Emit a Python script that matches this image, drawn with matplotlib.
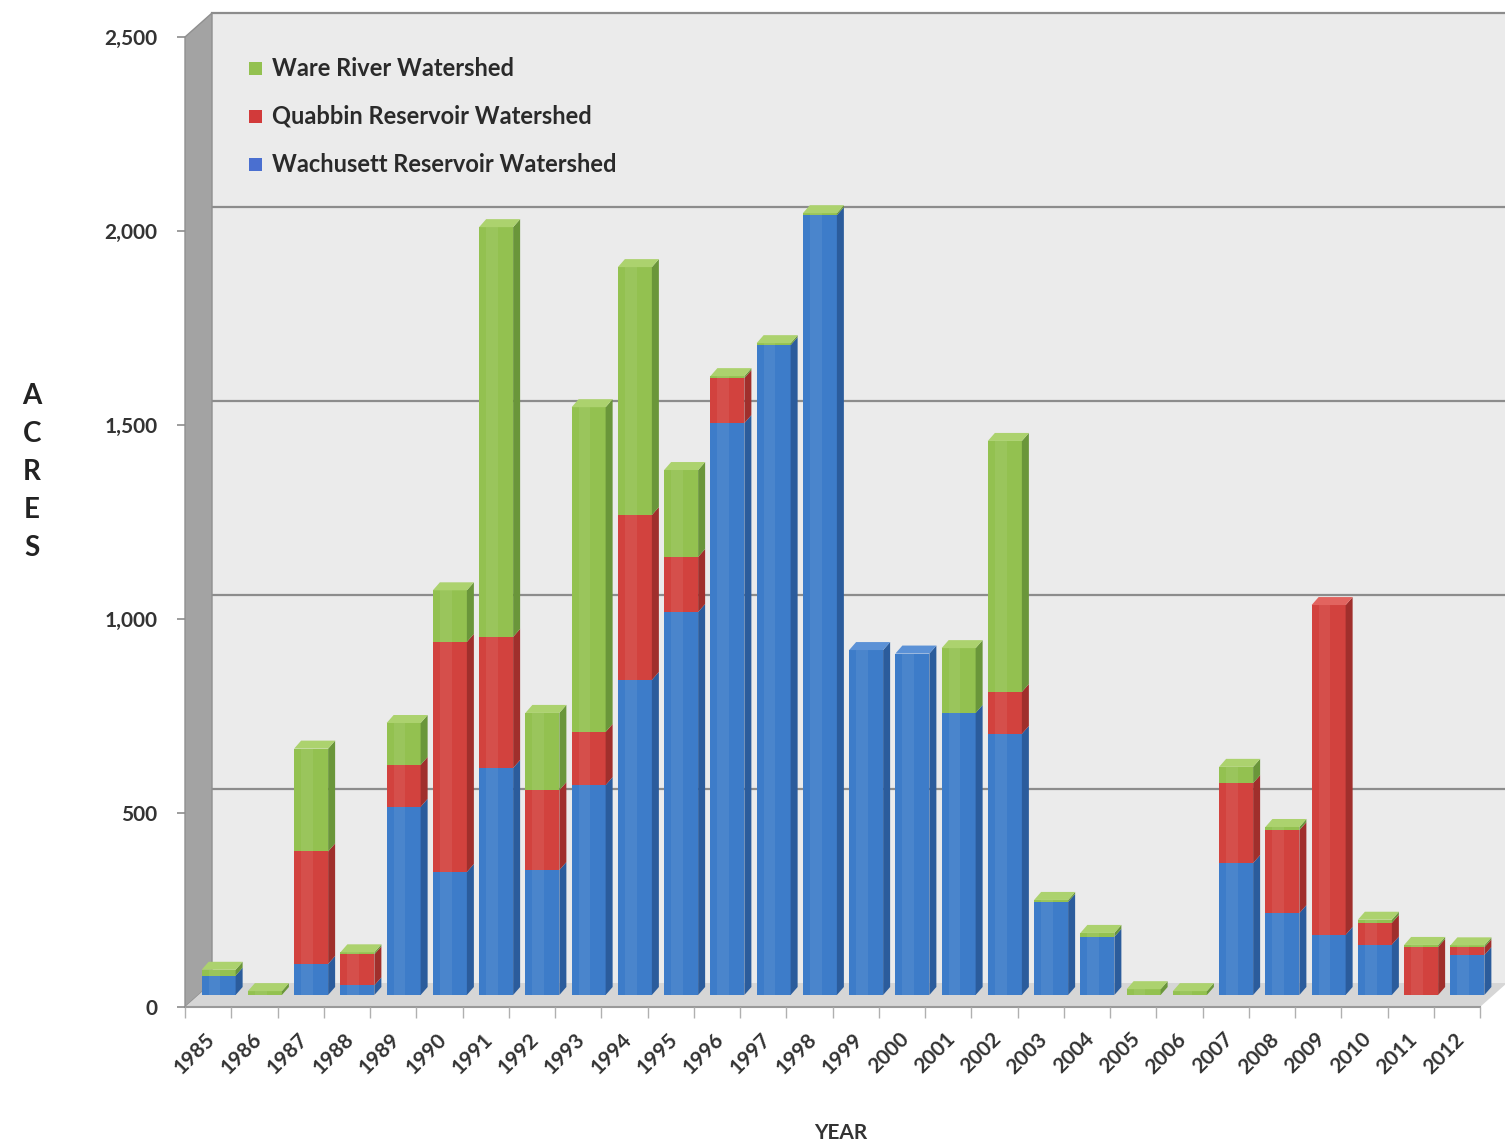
import numpy as np
import matplotlib
matplotlib.use("Agg")
import matplotlib.pyplot as plt
from matplotlib.patches import Polygon, Rectangle
from matplotlib.transforms import ScaledTranslation

plt.rcParams["font.family"] = ["Lato", "DejaVu Sans"]

# ---- data (acres protected per year) ----
years = list(range(1985, 2013))
wachusett = [50, 0, 80, 25, 485, 317, 585, 322, 541, 812, 987, 1474, 1675, 2010,
             889, 880, 727, 673, 240, 150, 0, 0, 340, 211, 155, 130, 0, 103]
quabbin = [0, 0, 290, 80, 108, 593, 338, 206, 137, 425, 142, 116, 0, 0,
           0, 0, 0, 108, 0, 0, 0, 0, 206, 214, 850, 56, 124, 20]
ware = [15, 10, 265, 5, 108, 133, 1056, 199, 837, 639, 224, 5, 5, 5,
        0, 0, 167, 647, 5, 10, 15, 10, 42, 8, 0, 8, 5, 5]
series_names = ["Wachusett Reservoir Watershed", "Quabbin Reservoir Watershed",
                "Ware River Watershed"]
y_ticks = [0, 500, 1000, 1500, 2000, 2500]
y_tick_labels = ["0", "500", "1,000", "1,500", "2,000", "2,500"]

# face colours: (front, side, top)
shades = [("#3d7cc9", "#2b5c9c", "#5b91d6"),
          ("#d2423e", "#a02f2c", "#e2645f"),
          ("#93c150", "#6a963a", "#acd26e")]
legend_colors = ["#4a6fd0", "#d23a3a", "#93c150"]

W, H, DPI = 1505, 1147, 100
fig = plt.figure(figsize=(W / DPI, H / DPI), dpi=DPI)
fig.patch.set_facecolor("white")

# front plane of the chart box
L, R, TOP, BOT = 185, 1480, 37, 1007
ax = fig.add_axes([L / W, (H - BOT) / H, (R - L) / W, (BOT - TOP) / H])
ax.set_autoscale_on(False)
ax.set_xlim(-0.5, len(years) - 0.5)
ax.set_ylim(0, 2500)
ax.patch.set_visible(False)
for s in ax.spines.values():
    s.set_visible(False)

CX = len(years) / (R - L)      # categories per pixel
CY = 2500 / (BOT - TOP)         # acres per pixel


def shifted(px, py):
    return ax.transData + ScaledTranslation(px / DPI, py / DPI, fig.dpi_scale_trans)


DEPTH_X, DEPTH_Y = 27, 24
back_tf = shifted(DEPTH_X, DEPTH_Y)
bar_tf = shifted(10.5, 12)
x0, x1 = -0.5, len(years) - 0.5

# back wall with gridlines
ax.add_patch(Rectangle((x0, 0), x1 - x0, 2500, transform=back_tf, fc="#ebebeb",
                       ec="none", clip_on=False, zorder=0))
for v in y_ticks[1:]:
    ax.plot([x0, x1], [v, v], transform=back_tf, color="#8c8c8c", lw=1.6,
            clip_on=False, zorder=0.5)

# side wall
ax.add_patch(Polygon([(x0, 0), (x0, 2500), (x0 + DEPTH_X * CX, 2500 + DEPTH_Y * CY),
                      (x0 + DEPTH_X * CX, DEPTH_Y * CY)], closed=True,
                     fc="#a3a3a3", ec="#8f8f8f", lw=1, clip_on=False, zorder=0.6))
# floor
ax.add_patch(Polygon([(x0, 0), (x1, 0), (x1 + DEPTH_X * CX, DEPTH_Y * CY),
                      (x0 + DEPTH_X * CX, DEPTH_Y * CY)], closed=True,
                     fc="#d6d6d6", ec="none", clip_on=False, zorder=0.6))
ax.plot([x0, x1], [0, 0], color="#9a9a9a", lw=1.5, clip_on=False, zorder=0.7)

# 3-D stacked bars
BW = 34 * CX
DX, DY = 7 * CX, 8 * CY
stack = [wachusett, quabbin, ware]
for i in range(len(years)):
    base = 0
    top_color = None
    for k, vals in enumerate(stack):
        v = vals[i]
        if v <= 0:
            continue
        front, side, top = shades[k]
        ax.bar(i, v, width=BW, bottom=base, color=front, transform=bar_tf,
               clip_on=False, zorder=3, linewidth=0)
        # soft highlight band on the front face
        ax.bar(i - BW * 0.12, v, width=BW * 0.35, bottom=base, color="white",
               alpha=0.07, transform=bar_tf, clip_on=False, zorder=3, linewidth=0)
        xr = i + BW / 2
        ax.add_patch(Polygon([(xr, base), (xr, base + v), (xr + DX, base + v + DY),
                              (xr + DX, base + DY)], closed=True, fc=side, ec="none",
                             transform=bar_tf, clip_on=False, zorder=3))
        base += v
        top_color = top
    if top_color is not None:
        xl, xr = i - BW / 2, i + BW / 2
        ax.add_patch(Polygon([(xl, base), (xr, base), (xr + DX, base + DY),
                              (xl + DX, base + DY)], closed=True, fc=top_color,
                             ec="none", transform=bar_tf, clip_on=False, zorder=3))

# axes ticks and labels
ax.set_yticks(y_ticks, y_tick_labels)
ax.tick_params(axis="y", length=6, width=1.2, color="#8c8c8c", pad=14,
               labelsize=15, labelcolor="#333333")
for lab in ax.get_yticklabels():
    lab.set_fontweight("bold")
ax.set_xticks(np.arange(x0, x1 + 0.01, 1.0), [""] * (len(years) + 1))
ax.tick_params(axis="x", length=8, width=1.0, color="#b0b0b0")
for i, yr in enumerate(years):
    ax.text(i - 3 * CX, -22 * CY, str(yr), rotation=45, rotation_mode="anchor",
            ha="right", va="top", fontsize=15, fontweight="bold", color="#333333")

fig.text(841 / W, 1 - 1133 / H, "YEAR", ha="center", va="center", fontsize=15,
         fontweight="bold", color="#333333")
for j, ch in enumerate("ACRES"):
    fig.text(32 / W, 1 - (396 + 38 * j) / H, ch, ha="center", va="center",
             fontsize=20, fontweight="bold", color="#222222")

# legend
rows = [68, 116, 164]
for yc, k in zip(rows, [2, 1, 0]):
    fig.add_artist(Rectangle((249 / W, 1 - (yc + 6.5) / H), 13 / W, 13 / H,
                             transform=fig.transFigure, fc=legend_colors[k], ec="none"))
    fig.text(272 / W, 1 - yc / H, series_names[k], ha="left", va="center",
             fontsize=17, fontweight="bold", color="#2a2a2a")

fig.savefig("out.png", dpi=DPI, facecolor="white")
